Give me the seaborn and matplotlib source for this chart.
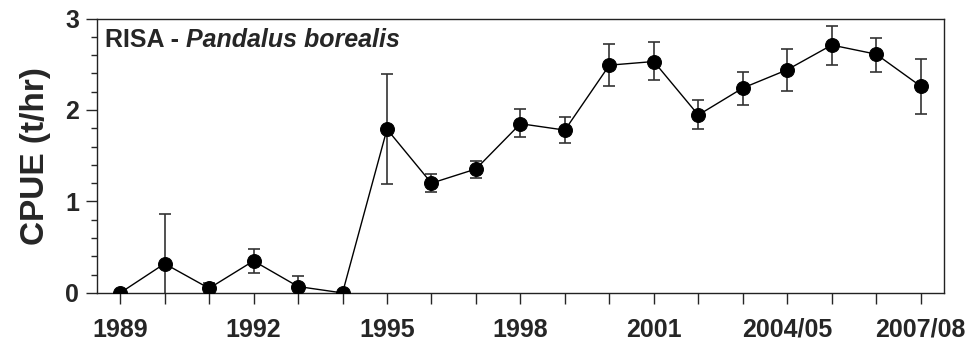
import numpy as np
import pandas as pd
import matplotlib
matplotlib.use("Agg")
import matplotlib.pyplot as plt
from matplotlib.ticker import MultipleLocator
import seaborn as sns

# values
seasons = ["1989", "1990", "1991", "1992", "1993", "1994", "1995", "1996",
           "1997", "1998", "1999", "2000", "2001", "2002", "2003",
           "2004/05", "2005/06", "2006/07", "2007/08"]
cpue = [0.0, 0.32, 0.05, 0.35, 0.07, 0.0, 1.79, 1.20, 1.355, 1.85, 1.78,
        2.49, 2.53, 1.945, 2.24, 2.44, 2.71, 2.61, 2.26]
err_low = [0.0, 0.54, 0.06, 0.135, 0.12, 0.0, 0.60, 0.10, 0.095, 0.15, 0.14,
           0.23, 0.20, 0.155, 0.19, 0.23, 0.22, 0.19, 0.30]
err_high = [0.0, 0.54, 0.06, 0.13, 0.12, 0.0, 0.60, 0.10, 0.085, 0.16, 0.14,
            0.23, 0.21, 0.165, 0.18, 0.23, 0.21, 0.18, 0.30]
labelled = ["1989", "1992", "1995", "1998", "2001", "2004/05", "2007/08"]

df = pd.DataFrame({"season": seasons, "cpue": cpue})
df["pos"] = np.arange(len(seasons))

sns.set_style("ticks")
plt.rcParams["font.family"] = ["Liberation Sans", "DejaVu Sans"]

fig = plt.figure(figsize=(9.7, 3.43), dpi=100)
ax = fig.add_axes([0.1, 0.146, 0.873, 0.8])

ax.errorbar(df["pos"], df["cpue"], yerr=[err_low, err_high], fmt="none",
            ecolor="#333333", elinewidth=1.2, capsize=4, capthick=1.2, zorder=2)
sns.lineplot(data=df, x="pos", y="cpue", ax=ax, color="black", linewidth=1,
             marker="o", markersize=10, markeredgecolor="black", zorder=3)

ax.set_xlim(-0.52, len(seasons) - 0.48)
ax.set_ylim(0, 3)
ax.set_xticks(df["pos"])
ax.set_xticklabels([s if s in labelled else "" for s in seasons],
                   fontsize=18, fontweight="bold")
ax.yaxis.set_major_locator(MultipleLocator(1))
ax.yaxis.set_minor_locator(MultipleLocator(0.2))
ax.tick_params(axis="y", which="major", labelsize=18, length=8, width=1, pad=5)
ax.tick_params(axis="y", which="minor", length=4, width=1)
ax.tick_params(axis="x", length=8, width=1, pad=10)
for lab in ax.get_yticklabels():
    lab.set_fontweight("bold")

ax.set_xlabel("")
ax.set_ylabel("CPUE (t/hr)", fontsize=24, fontweight="bold", labelpad=10)

for sp in ax.spines.values():
    sp.set_linewidth(1)
    sp.set_color("#222222")

t1 = ax.text(0.009, 0.92, "RISA - ", transform=ax.transAxes, fontsize=18,
             fontweight="bold", va="center", ha="left")
ax.annotate("Pandalus borealis", xy=(1, 0.5), xycoords=t1, fontsize=18,
            fontweight="bold", fontstyle="italic", va="center", ha="left")

fig.savefig("out.png", dpi=100)
